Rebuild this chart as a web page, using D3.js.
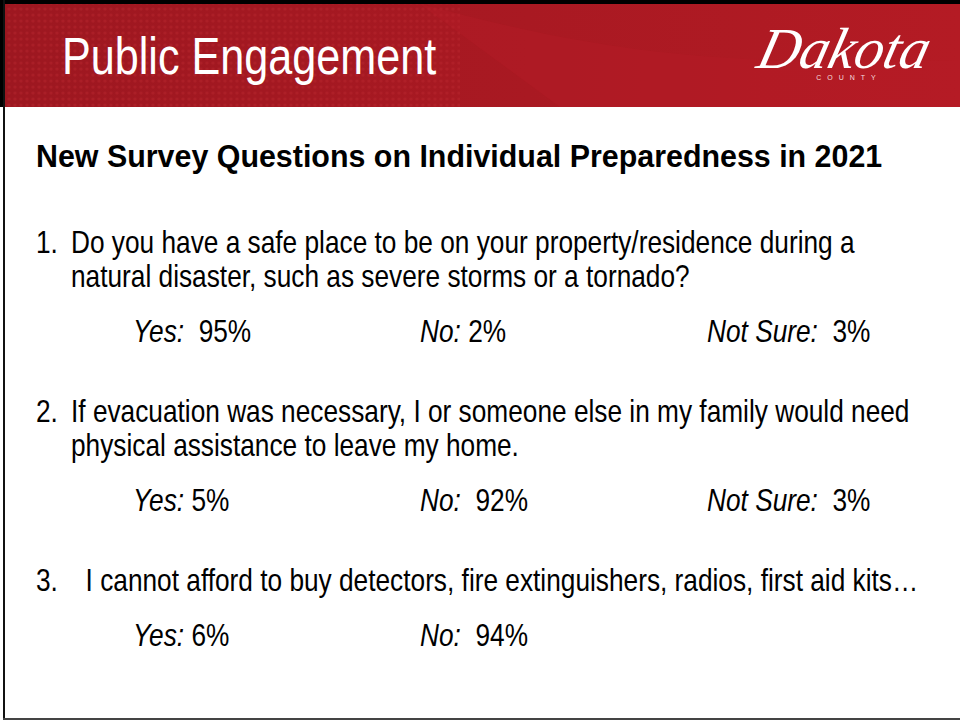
<!DOCTYPE html>
<html>
<head>
<meta charset="utf-8">
<script src="https://cdn.jsdelivr.net/npm/d3@7"></script>
<style>
    body { margin: 0; background: #ffffff; }
    svg { display: block; }
    text { white-space: pre; }
</style>
</head>
<body>
<div class="chart-container"></div>
<script>
// Slide texts and survey values
const slideTitle = "Public Engagement";
const subtitle = "New Survey Questions on Individual Preparedness in 2021";
const questionNumbers = ["1.", "2.", "3."];
const questionLines = [
    ["Do you have a safe place to be on your property/residence during a",
     "natural disaster, such as severe storms or a tornado?"],
    ["If evacuation was necessary, I or someone else in my family would need",
     "physical assistance to leave my home."],
    ["  I cannot afford to buy detectors, fire extinguishers, radios, first aid kits\u2026"]
];
const answerLabels = ["Yes:", "No:", "Not Sure:"];
const yesValues = [95, 5, 6];
const noValues = [2, 92, 94];
const notSureValues = [3, 3, null];
// spacing after each label, as typed on the slide
const yesGaps = ["  ", " ", " "];
const noGaps = [" ", "  ", "  "];
const notSureGaps = ["  ", "  ", ""];

const w = 960;
const h = 721;
const font = "'Liberation Sans', Arial, sans-serif";

const svg = d3.select(".chart-container").append("svg")
    .attr("width", w)
    .attr("height", h);

// Header band
const defs = svg.append("defs");
const grad = defs.append("linearGradient")
    .attr("id", "hdr")
    .attr("x1", "0%").attr("x2", "100%")
    .attr("y1", "0%").attr("y2", "0%");
grad.append("stop").attr("offset", "0%").attr("stop-color", "#9d1720");
grad.append("stop").attr("offset", "55%").attr("stop-color", "#a91922");
grad.append("stop").attr("offset", "100%").attr("stop-color", "#b41b24");

const dots = defs.append("pattern")
    .attr("id", "dots")
    .attr("width", 6).attr("height", 6)
    .attr("patternUnits", "userSpaceOnUse");
dots.append("circle")
    .attr("cx", 3).attr("cy", 3).attr("r", 1.6)
    .attr("fill", "#c02a33")
    .attr("opacity", 0.35);

svg.append("rect")
    .attr("x", 0).attr("y", 0)
    .attr("width", w).attr("height", 107)
    .attr("fill", "url(#hdr)");
svg.append("rect")
    .attr("x", 0).attr("y", 0)
    .attr("width", 460).attr("height", 107)
    .attr("fill", "url(#dots)");
svg.append("path")
    .attr("d", "M420,4 C560,40 680,70 960,60 L960,107 L560,107 Z")
    .attr("fill", "#b81d27")
    .attr("opacity", 0.35);

// Frame lines
svg.append("rect").attr("x", 0).attr("y", 0).attr("width", w).attr("height", 4).attr("fill", "#000");
svg.append("rect").attr("x", 0).attr("y", 0).attr("width", 3).attr("height", 107).attr("fill", "#000");
svg.append("rect").attr("x", 3).attr("y", 0).attr("width", 2).attr("height", 719).attr("fill", "#111");
svg.append("rect").attr("x", 3).attr("y", 718).attr("width", w - 3).attr("height", 2).attr("fill", "#444");

// helper: text squeezed horizontally like the slide export
function squeezed(x, y, sx) {
    return svg.append("text")
        .attr("transform", `translate(${x},${y}) scale(${sx},1)`)
        .style("font-family", font)
        .attr("fill", "#000");
}

squeezed(62, 74, 0.83)
    .attr("font-size", 52)
    .attr("fill", "#fff")
    .text(slideTitle);

// Logo
const logo = svg.append("g").attr("transform", "translate(840,68)");
logo.append("text")
    .attr("text-anchor", "middle")
    .attr("transform", "skewX(-14)")
    .style("font-family", "'Liberation Serif', 'DejaVu Serif', serif")
    .style("font-style", "italic")
    .attr("font-size", 58)
    .attr("fill", "#fff")
    .text("Dakota");
logo.append("text")
    .attr("x", 9)
    .attr("y", 12)
    .attr("text-anchor", "middle")
    .style("font-family", font)
    .attr("font-size", 7)
    .attr("letter-spacing", 6)
    .attr("fill", "#f3dcdc")
    .text("COUNTY");

squeezed(36, 167, 0.95)
    .attr("font-size", 32)
    .attr("font-weight", "bold")
    .text(subtitle);

// Layout scales
const qScale = d3.scaleLinear().domain([0, 2]).range([253, 591]);
const lineStep = 34;
const colScale = d3.scalePoint().domain(answerLabels).range([133, 707]);
const bodySize = 31;
const bodySx = 0.847;

const answers = [yesValues, noValues, notSureValues];
const gaps = [yesGaps, noGaps, notSureGaps];

questionLines.forEach((lines, i) => {
    const y0 = qScale(i);
    squeezed(36, y0, bodySx).attr("font-size", bodySize).text(questionNumbers[i]);
    lines.forEach((line, j) => {
        squeezed(71, y0 + j * lineStep, bodySx).attr("font-size", bodySize).text(line);
    });
    const ya = y0 + (lines.length - 1) * lineStep + 55;
    answerLabels.forEach((label, k) => {
        const v = answers[k][i];
        if (v === null) return;
        const t = squeezed(colScale(label), ya, bodySx).attr("font-size", bodySize);
        t.append("tspan").style("font-style", "italic").text(label);
        t.append("tspan").text(gaps[k][i] + v + "%");
    });
});
</script>
</body>
</html>
